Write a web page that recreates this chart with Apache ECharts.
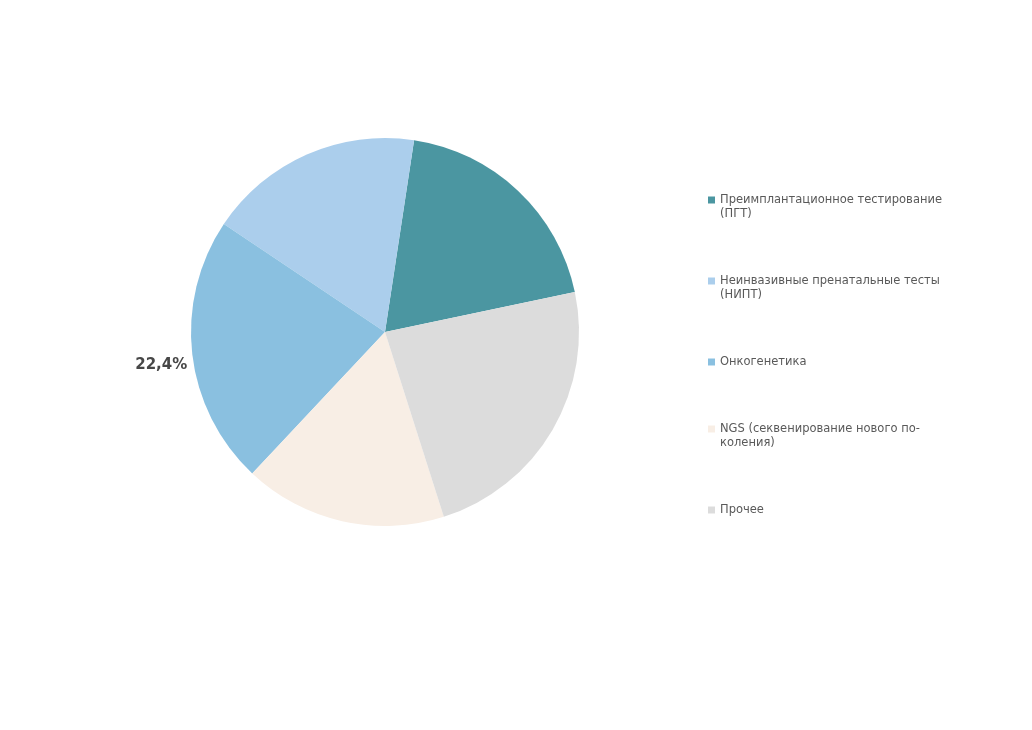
<!DOCTYPE html>
<html lang="ru">
<head>
    <meta charset="UTF-8">
    <title>Структура рынка</title>
    <script src="https://cdn.jsdelivr.net/npm/echarts@6/dist/echarts.min.js"></script>
    <style>
        html, body { margin: 0; padding: 0; background: #fff; }
    </style>
</head>
<body>

<div id="main" style="width: 1032px;height:730px;"></div>

<script type="text/javascript">
    // данные
    var names = [
        'Преимплантационное тестирование (ПГТ)',
        'Неинвазивные пренатальные тесты (НИПТ)',
        'Онкогенетика',
        'NGS (секвенирование нового поколения)',
        'Прочее'
    ];
    var legendText = [
        'Преимплантационное тестирование\n(ПГТ)',
        'Неинвазивные пренатальные тесты\n(НИПТ)',
        'Онкогенетика',
        'NGS (секвенирование нового по-\nколения)',
        'Прочее'
    ];
    var values = [19.3, 18.0, 22.4, 16.9, 23.4];
    var colors = ['#4b96a1', '#abceec', '#8ac0e0', '#f8eee5', '#dcdcdc'];
    var labelShown = [false, false, true, false, false];

    var myChart = echarts.init(document.getElementById('main'));

    var font = 'DejaVu Sans';
    // центр значка каждого пункта легенды
    var legendY = [200, 281, 362, 429, 510];

    var legends = names.map(function (n, i) {
        var twoLines = legendText[i].indexOf('\n') >= 0;
        // пустая первая строка, чтобы значок стоял у первой строки текста
        var txt = twoLines ? '\n' + legendText[i] : legendText[i];
        var half = twoLines ? 21 : 7;
        return {
            orient: 'vertical',
            left: 708,
            top: legendY[i] - half,
            padding: 0,
            itemWidth: 7,
            itemHeight: 7,
            itemGap: 0,
            icon: 'rect',
            selectedMode: false,
            data: [n],
            formatter: function () { return txt; },
            textStyle: {
                fontFamily: font,
                fontSize: 11.5,
                lineHeight: 14,
                color: '#595959'
            }
        };
    });

    myChart.setOption({
        animation: false,
        color: colors,
        legend: legends,
        series: [{
            name: 'Доля',
            type: 'pie',
            center: [385, 332],
            radius: 194,
            startAngle: 11.9,
            clockwise: false,
            avoidLabelOverlap: false,
            itemStyle: { borderWidth: 0 },
            emphasis: { disabled: true },
            label: {
                show: false,
                position: 'outside',
                fontFamily: font,
                fontSize: 15,
                fontWeight: 'bold',
                color: '#474747',
                formatter: function (p) {
                    return p.value.toFixed(1).replace('.', ',') + '%';
                }
            },
            labelLine: { show: false, length: 0, length2: 0 },
            labelLayout: { dy: 11 },
            data: names.map(function (n, i) {
                return { name: n, value: values[i], label: { show: labelShown[i] } };
            })
        }]
    });
</script>

</body>
</html>
